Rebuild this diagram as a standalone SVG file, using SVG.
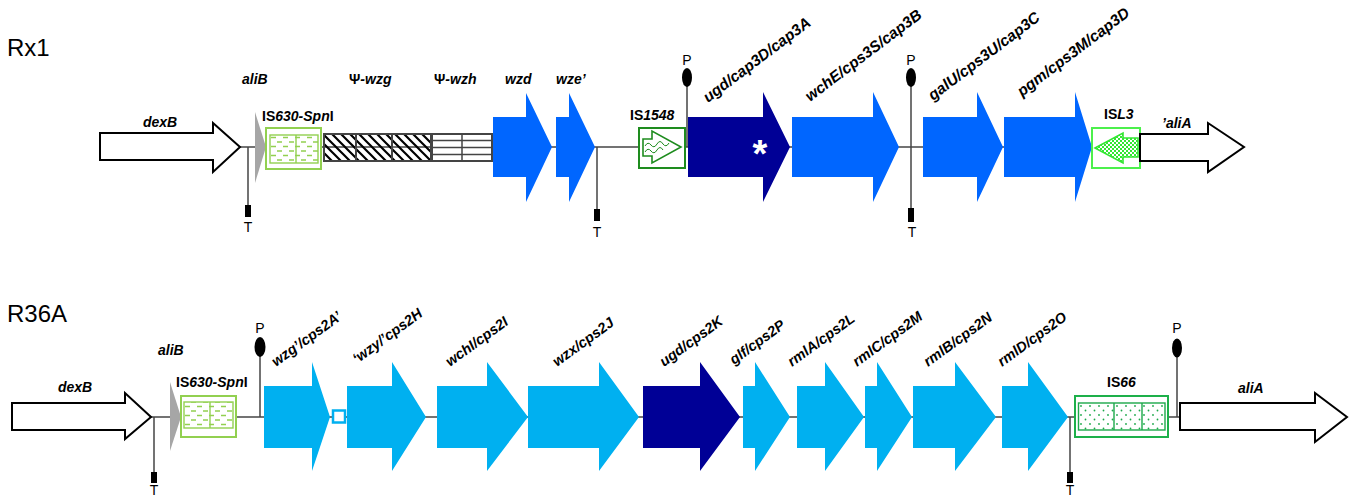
<svg xmlns="http://www.w3.org/2000/svg" width="1356" height="498" viewBox="0 0 1356 498">
<style>
.lbl{font-family:"Liberation Sans",Arial,sans-serif;font-size:14px;font-weight:bold;font-style:italic;fill:#000}
.rt{font-size:15.5px}
.rb{font-size:14.5px}
.up{font-style:normal}
.pt{font-family:"Liberation Sans",Arial,sans-serif;font-size:14px;fill:#000;text-anchor:middle}
.title{font-family:"Liberation Sans",Arial,sans-serif;font-size:24px;fill:#000}
.bb{stroke:#444;stroke-width:1.5;fill:none}
.open{fill:#fff;stroke:#000;stroke-width:2}
.blue{fill:#0066FF}
.lblue{fill:#00B0F0}
.navy{fill:#000096}
.gray{fill:#A6A6A6}
.term{fill:#000}
</style>
<defs>
<pattern id="hatch" patternUnits="userSpaceOnUse" width="9" height="9">
<path d="M-2,-2 L11,11 M-2,7 L2,11 M7,-2 L11,2" stroke="#000" stroke-width="2.2"/>
</pattern>
<pattern id="dash" patternUnits="userSpaceOnUse" width="12" height="9" x="270" y="136">
<path d="M1,1.5 H6 M7,6 H12 M-5,6 H0" stroke="#92D050" stroke-width="1.4"/>
</pattern>
<pattern id="dash2" patternUnits="userSpaceOnUse" width="12" height="9" x="184" y="405">
<path d="M1,1.5 H6 M7,6 H12 M-5,6 H0" stroke="#92D050" stroke-width="1.4"/>
</pattern>
<pattern id="checker" patternUnits="userSpaceOnUse" width="4" height="4">
<rect width="4" height="4" fill="#fff"/>
<rect width="2" height="2" fill="#33E633"/>
<rect x="2" y="2" width="2" height="2" fill="#33E633"/>
</pattern>
<pattern id="dots" patternUnits="userSpaceOnUse" width="9" height="9" x="1079" y="404">
<circle cx="2" cy="2" r="0.9" fill="#1DA84A"/>
<circle cx="6.5" cy="6.5" r="0.9" fill="#1DA84A"/>
</pattern>
</defs>

<text class="title" x="7" y="56">Rx1</text>
<text class="title" x="7" y="322">R36A</text>

<g id="connectors">
<line class="bb" x1="240" y1="147" x2="1092" y2="147"/>
<line class="bb" x1="151" y1="417" x2="1180" y2="417"/>
</g>

<!-- ===== Rx1 ===== -->
<g id="rx1-dexB">
<polygon class="open" points="100,133 213,133 213,123 240,147 213,172 213,160 100,160"/>
<text class="lbl" x="143" y="127">dexB</text>
</g>
<g id="rx1-T1">
<line class="bb" x1="248" y1="147" x2="248" y2="206"/>
<rect class="term" x="245" y="205" width="6" height="12"/>
<text class="pt" x="248" y="232">T</text>
</g>
<g id="rx1-aliB">
<polygon class="gray" points="255,112 266,147 255,183"/>
<text class="lbl" x="242" y="84">aliB</text>
</g>
<g id="rx1-IS630">
<rect x="266" y="128" width="55" height="41" fill="#fff" stroke="#92D050" stroke-width="2"/>
<rect x="270" y="135" width="48" height="28" fill="url(#dash)" stroke="#92D050" stroke-width="1.4"/>
<line x1="296" y1="135" x2="296" y2="163" stroke="#92D050" stroke-width="1.4"/>
<text class="lbl" x="262" y="121"><tspan class="up">IS</tspan>630-Spn<tspan class="up">I</tspan></text>
</g>
<g id="rx1-wzg">
<rect x="324" y="134" width="107" height="27" fill="url(#hatch)" stroke="#444" stroke-width="2"/>
<line x1="356" y1="134" x2="356" y2="161" stroke="#444" stroke-width="2"/>
<line x1="392" y1="134" x2="392" y2="161" stroke="#444" stroke-width="2"/>
<text class="lbl" x="349" y="84"><tspan class="up">Ψ</tspan>-wzg</text>
</g>
<g id="rx1-wzh">
<rect x="432" y="134" width="60" height="27" fill="#fff" stroke="#444" stroke-width="2"/>
<path d="M432,140.5 H492 M432,147.5 H492 M432,154.5 H492 M462,134 V161" stroke="#444" stroke-width="1.5"/>
<text class="lbl" x="434" y="84"><tspan class="up">Ψ</tspan>-wzh</text>
</g>
<g id="rx1-wzd">
<polygon class="blue" points="493,117 526,117 526,93 552,147 526,202 526,177 493,177"/>
<text class="lbl" x="505" y="84">wzd</text>
</g>
<g id="rx1-wze">
<polygon class="blue" points="556,117 569,117 569,93 595,147 569,202 569,177 556,177"/>
<text class="lbl" x="556" y="84">wze’</text>
</g>
<g id="rx1-T2">
<line class="bb" x1="597" y1="147" x2="597" y2="210"/>
<rect class="term" x="594" y="209" width="6" height="12"/>
<text class="pt" x="597" y="237">T</text>
</g>
<g id="rx1-IS1548">
<rect x="639" y="128" width="46" height="40" fill="#fff" stroke="#1E8C1E" stroke-width="2"/>
<polygon points="643,139 652,139 652,131 681,147 652,163 652,156 643,156" fill="#fff" stroke="#1E8C1E" stroke-width="1.6"/>
<path d="M645,146 q3,-5 6,-1 q3,4 6,-1 q3,-5 6,0 q3,4 6,-1 M645,152 q3,-5 6,-1 q3,4 6,-1 q3,-5 6,0" fill="none" stroke="#1E8C1E" stroke-width="1"/>
<text class="lbl" x="630" y="120"><tspan class="up">IS</tspan>1548</text>
</g>
<g id="rx1-P1">
<line class="bb" x1="687" y1="86" x2="687" y2="147"/>
<ellipse cx="687" cy="77.5" rx="5" ry="9.5" fill="#000"/>
<text class="pt" x="687" y="65">P</text>
</g>
<g id="rx1-ugd">
<polygon class="navy" points="688,117 763,117 763,92 790,147 763,202 763,177 688,177"/>
<text x="760" y="167" fill="#fff" font-family="Liberation Sans,Arial,sans-serif" font-size="38" font-weight="bold" text-anchor="middle">*</text>
<text class="lbl rt" x="708" y="103" transform="rotate(-37 708 103)">ugd/cap3D/cap3A</text>
</g>
<g id="rx1-wchE">
<polygon class="blue" points="792,117 873,117 873,92 899,147 873,202 873,177 792,177"/>
<text class="lbl rt" x="810" y="102" transform="rotate(-37 810 102)">wchE/cps3S/cap3B</text>
</g>
<g id="rx1-PT">
<line class="bb" x1="911" y1="86" x2="911" y2="209"/>
<ellipse cx="911" cy="77.5" rx="5" ry="9.5" fill="#000"/>
<text class="pt" x="911" y="65">P</text>
<rect class="term" x="908" y="208" width="6" height="14"/>
<text class="pt" x="912" y="237">T</text>
</g>
<g id="rx1-galU">
<polygon class="blue" points="923,117 977,117 977,92 1003,147 977,202 977,177 923,177"/>
<text class="lbl rt" x="933" y="101" transform="rotate(-37 933 101)">galU/cps3U/cap3C</text>
</g>
<g id="rx1-pgm">
<polygon class="blue" points="1004,117 1075,117 1075,92 1092,147 1075,202 1075,177 1004,177"/>
<text class="lbl rt" x="1022" y="97" transform="rotate(-37 1022 97)">pgm/cps3M/cap3D</text>
</g>
<g id="rx1-ISL3">
<rect x="1092" y="128" width="48" height="40" fill="#fff" stroke="#4CF04C" stroke-width="2"/>
<polygon points="1095,148 1123,133 1123,138 1138,138 1138,157 1123,157 1123,163" fill="url(#checker)" stroke="#33E633" stroke-width="1.6"/>
<text class="lbl" x="1104" y="119"><tspan class="up">IS</tspan>L3</text>
</g>
<g id="rx1-aliA">
<polygon class="open" points="1140,134 1208,134 1208,123 1244,147 1208,172 1208,161 1140,161"/>
<text class="lbl" x="1162" y="128">’aliA</text>
</g>

<!-- ===== R36A ===== -->
<g id="r36-dexB">
<polygon class="open" points="12,403 125,403 125,393 151,417 125,439 125,430 12,430"/>
<text class="lbl" x="58" y="392">dexB</text>
</g>
<g id="r36-T1">
<line class="bb" x1="154" y1="417" x2="154" y2="473"/>
<rect class="term" x="151" y="472" width="6" height="11"/>
<text class="pt" x="154" y="495" font-size="13">T</text>
</g>
<g id="r36-aliB">
<polygon class="gray" points="170,382 181,417 170,451"/>
<text class="lbl" x="158" y="355">aliB</text>
</g>
<g id="r36-IS630">
<rect x="181" y="396" width="55" height="41" fill="#fff" stroke="#92D050" stroke-width="2"/>
<rect x="184" y="402" width="49" height="26" fill="url(#dash2)" stroke="#92D050" stroke-width="1.4"/>
<line x1="210" y1="402" x2="210" y2="428" stroke="#92D050" stroke-width="1.4"/>
<text class="lbl" x="176" y="387"><tspan class="up">IS</tspan>630-Spn<tspan class="up">I</tspan></text>
</g>
<g id="r36-P1">
<line class="bb" x1="260" y1="356" x2="260" y2="417"/>
<ellipse cx="260" cy="347" rx="5.5" ry="10" fill="#000"/>
<text class="pt" x="260" y="333">P</text>
</g>
<g id="r36-wzg">
<polygon class="lblue" points="264,386 312,386 312,362 330,417 312,471 312,448 264,448"/>
<text class="lbl rb" x="276" y="367" transform="rotate(-36 276 367)">wzg’/cps2A’</text>
</g>
<g id="r36-box">
<rect x="333" y="410.5" width="12" height="12" fill="#fff" stroke="#00B0F0" stroke-width="2.5"/>
</g>
<g id="r36-wzy">
<polygon class="lblue" points="347,386 392,386 392,362 426,417 392,471 392,448 347,448"/>
<text class="lbl rb" x="357" y="364" transform="rotate(-36 357 364)">‘wzy/’cps2H</text>
</g>
<g id="r36-wchI">
<polygon class="lblue" points="437,386 487,386 487,362 528,417 487,471 487,448 437,448"/>
<text class="lbl rb" x="450" y="367" transform="rotate(-36 450 367)">wchI/cps2I</text>
</g>
<g id="r36-wzx">
<polygon class="lblue" points="528,386 599,386 599,362 639,417 599,471 599,448 528,448"/>
<text class="lbl rb" x="557" y="367" transform="rotate(-36 557 367)">wzx/cps2J</text>
</g>
<g id="r36-ugd">
<polygon class="navy" points="643,386 700,386 700,362 740,417 700,471 700,448 643,448"/>
<text class="lbl rb" x="664" y="367" transform="rotate(-36 664 367)">ugd/cps2K</text>
</g>
<g id="r36-glf">
<polygon class="lblue" points="743,386 755,386 755,362 790,417 755,471 755,448 743,448"/>
<text class="lbl rb" x="734" y="365" transform="rotate(-36 734 365)">glf/cps2P</text>
</g>
<g id="r36-rmlA">
<polygon class="lblue" points="797,386 825,386 825,362 864,417 825,471 825,448 797,448"/>
<text class="lbl rb" x="792" y="367" transform="rotate(-36 792 367)">rmlA/cps2L</text>
</g>
<g id="r36-rmlC">
<polygon class="lblue" points="865,386 877,386 877,362 912,417 877,471 877,448 865,448"/>
<text class="lbl rb" x="857" y="367" transform="rotate(-36 857 367)">rmlC/cps2M</text>
</g>
<g id="r36-rmlB">
<polygon class="lblue" points="913,386 955,386 955,362 996,417 955,471 955,448 913,448"/>
<text class="lbl rb" x="928" y="367" transform="rotate(-36 928 367)">rmlB/cps2N</text>
</g>
<g id="r36-rmlD">
<polygon class="lblue" points="1002,386 1028,386 1028,362 1068,417 1028,471 1028,448 1002,448"/>
<text class="lbl rb" x="1002" y="367" transform="rotate(-36 1002 367)">rmlD/cps2O</text>
</g>
<g id="r36-T2">
<line class="bb" x1="1070" y1="417" x2="1070" y2="473"/>
<rect class="term" x="1067" y="472" width="6" height="11"/>
<text class="pt" x="1070" y="495" font-size="13">T</text>
</g>
<g id="r36-IS66">
<rect x="1075" y="396" width="93" height="41" fill="#fff" stroke="#1DB04A" stroke-width="2"/>
<rect x="1078.5" y="403" width="86.5" height="27" fill="url(#dots)" stroke="#1DA84A" stroke-width="1.4"/>
<path d="M1114,403 V430 M1142,403 V430" stroke="#1DA84A" stroke-width="1.4"/>
<text class="lbl" x="1107" y="387"><tspan class="up">IS</tspan>66</text>
</g>
<g id="r36-P2">
<line class="bb" x1="1177" y1="357" x2="1177" y2="417"/>
<ellipse cx="1177" cy="348" rx="5" ry="9.5" fill="#000"/>
<text class="pt" x="1177" y="333">P</text>
</g>
<g id="r36-aliA">
<polygon class="open" points="1180,403 1315,403 1315,393 1347,417 1315,442 1315,430 1180,430"/>
<text class="lbl" x="1238" y="393">aliA</text>
</g>
</svg>
